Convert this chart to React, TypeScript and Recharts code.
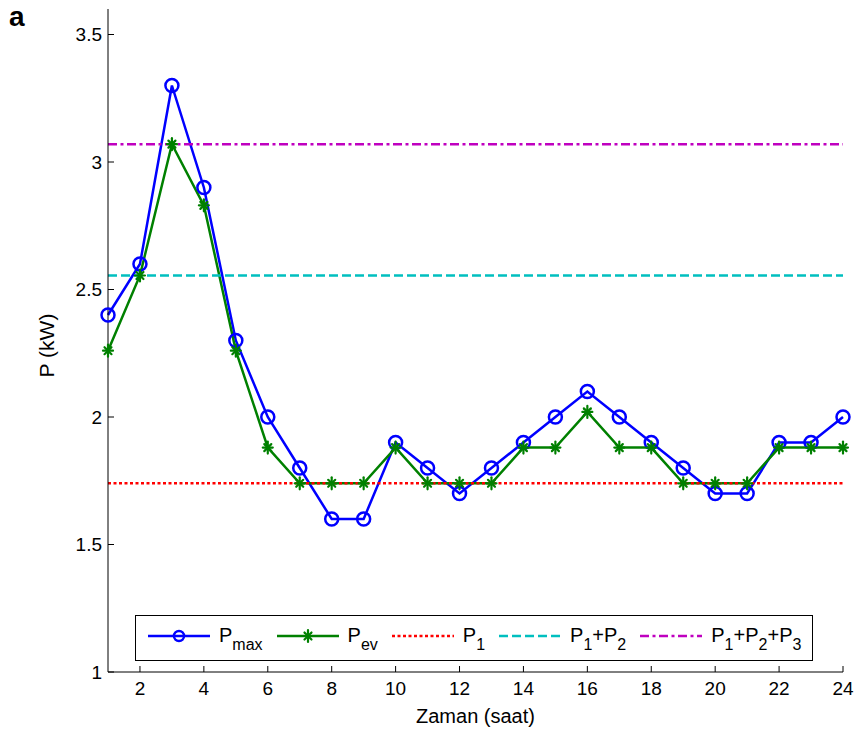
import React from 'react';
import { LineChart, Line, XAxis, YAxis, ReferenceLine } from 'recharts';

// hours of day
const hours = [1, 2, 3, 4, 5, 6, 7, 8, 9, 10, 11, 12, 13, 14, 15, 16, 17, 18, 19, 20, 21, 22, 23, 24];
// P_max and P_ev, kW
const pMax = [2.4, 2.6, 3.3, 2.9, 2.3, 2.0, 1.8, 1.6, 1.6, 1.9, 1.8, 1.7, 1.8, 1.9, 2.0, 2.1, 2.0, 1.9, 1.8, 1.7, 1.7, 1.9, 1.9, 2.0];
const pEv = [2.26, 2.555, 3.07, 2.83, 2.26, 1.88, 1.74, 1.74, 1.74, 1.88, 1.74, 1.74, 1.74, 1.88, 1.88, 2.02, 1.88, 1.88, 1.74, 1.74, 1.74, 1.88, 1.88, 1.88];
// threshold levels
const p1 = 1.74;
const p12 = 2.555;
const p123 = 3.07;

const xTicks = [2, 4, 6, 8, 10, 12, 14, 16, 18, 20, 22, 24];
const yTicks = [1, 1.5, 2, 2.5, 3, 3.5];
const yDomain = [1, 3.6];
const xDomain = [1, 24];

const BLUE = '#0000FF';
const GREEN = '#008000';
const RED = '#FF0000';
const CYAN = '#00BFBF';
const MAGENTA = '#BF00BF';
const FONT = '"Liberation Sans", Arial, sans-serif';

const data = hours.map((h, i) => ({ hour: h, pMax: pMax[i], pEv: pEv[i] }));

function StarDot(props: any) {
    const { cx, cy } = props;
    if (cx == null || cy == null) return null;
    return (
        <g stroke={GREEN} strokeWidth={2.2} strokeLinecap="round">
            <line x1={cx} y1={cy - 6} x2={cx} y2={cy + 6} />
            <line x1={cx - 5} y1={cy} x2={cx + 5} y2={cy} />
            <line x1={cx - 3.5} y1={cy - 3.5} x2={cx + 3.5} y2={cy + 3.5} />
            <line x1={cx - 3.5} y1={cy + 3.5} x2={cx + 3.5} y2={cy - 3.5} />
        </g>
    );
}

function Sub({ children }: { children: React.ReactNode }) {
    return <span style={{ fontSize: 16, position: 'relative', top: 8 }}>{children}</span>;
}

const legendItems = [
    { key: 'pmax', color: BLUE, dash: undefined, marker: 'circle', label: <>P<Sub>max</Sub></> },
    { key: 'pev', color: GREEN, dash: undefined, marker: 'star', label: <>P<Sub>ev</Sub></> },
    { key: 'p1', color: RED, dash: '3 2.5', marker: '', label: <>P<Sub>1</Sub></> },
    { key: 'p12', color: CYAN, dash: '9 4', marker: '', label: <>P<Sub>1</Sub>+P<Sub>2</Sub></> },
    { key: 'p123', color: MAGENTA, dash: '9 3.5 3 3.5', marker: '', label: <>P<Sub>1</Sub>+P<Sub>2</Sub>+P<Sub>3</Sub></> },
];

function LegendBox() {
    return (
        <div style={{
            position: 'absolute', left: 135, top: 615, width: 678, height: 46,
            border: '1.5px solid #000', boxSizing: 'border-box', background: '#fff',
            display: 'flex', alignItems: 'center', paddingLeft: 12, fontFamily: FONT, fontSize: 20,
        }}>
            {legendItems.map(it => (
                <div key={it.key} style={{ display: 'flex', alignItems: 'center', marginRight: 14, position: 'relative', top: -2 }}>
                    <svg width={62} height={16} style={{ marginRight: 9 }}>
                        <line x1={0} y1={8} x2={62} y2={8} stroke={it.color} strokeWidth={2.5} strokeDasharray={it.dash} />
                        {it.marker === 'circle' && <circle cx={31} cy={8} r={5} stroke={it.color} strokeWidth={2.5} fill="none" />}
                        {it.marker === 'star' && <StarDot cx={31} cy={8} />}
                    </svg>
                    <span style={{ lineHeight: '20px' }}>{it.label}</span>
                </div>
            ))}
        </div>
    );
}

export default function App() {
    const tickStyle = { fill: '#000', fontSize: 19, fontFamily: FONT };
    return (
        <div style={{ position: 'absolute', left: 0, top: 0, width: 856, height: 736, background: '#fff', fontFamily: FONT }}>
            <div style={{ position: 'absolute', left: 9, top: 1, fontSize: 28, fontWeight: 'bold', lineHeight: 'normal' }}>a</div>
            <LineChart width={856} height={736} data={data} margin={{ top: 9, right: 13, left: 8, bottom: 4 }}>
                <XAxis
                    xAxisId="b"
                    dataKey="hour"
                    type="number"
                    domain={xDomain}
                    ticks={xTicks}
                    interval={0}
                    height={60}
                    stroke="#000"
                    tickSize={-6}
                    tickMargin={16}
                    tick={tickStyle}
                    label={{ value: 'Zaman (saat)', position: 'insideBottom', offset: 9, fill: '#000', fontSize: 20, fontFamily: FONT }}
                />
                <XAxis xAxisId="t" orientation="top" mirror type="number" domain={xDomain} ticks={xTicks} interval={0} height={0} stroke="#000" tick={false} tickSize={6} allowDataOverflow />
                <YAxis
                    yAxisId="l"
                    type="number"
                    domain={yDomain}
                    ticks={yTicks}
                    interval={0}
                    width={100}
                    stroke="#000"
                    tickSize={-6}
                    tickMargin={12}
                    tick={tickStyle}
                    allowDataOverflow
                    label={{ value: 'P (kW)', angle: -90, position: 'center', dx: -11, dy: 5, fill: '#000', fontSize: 21, fontFamily: FONT }}
                />
                <YAxis yAxisId="r" orientation="right" mirror type="number" domain={yDomain} ticks={yTicks} interval={0} width={0} stroke="#000" tick={false} tickSize={6} allowDataOverflow />
                <Line
                    xAxisId="b"
                    yAxisId="l"
                    dataKey="pMax"
                    stroke={BLUE}
                    strokeWidth={2.5}
                    dot={{ r: 6.5, stroke: BLUE, strokeWidth: 2.5, fill: 'none' }}
                    isAnimationActive={false}
                />
                <Line
                    xAxisId="b"
                    yAxisId="l"
                    dataKey="pEv"
                    stroke={GREEN}
                    strokeWidth={2.5}
                    dot={(p: any) => <StarDot key={p.index} {...p} />}
                    isAnimationActive={false}
                />
                <ReferenceLine xAxisId="b" yAxisId="l" y={p1} stroke={RED} strokeWidth={2.5} strokeDasharray="3 2.5" />
                <ReferenceLine xAxisId="b" yAxisId="l" y={p12} stroke={CYAN} strokeWidth={2.5} strokeDasharray="9 4" />
                <ReferenceLine xAxisId="b" yAxisId="l" y={p123} stroke={MAGENTA} strokeWidth={2.5} strokeDasharray="9 3.5 3 3.5" />
            </LineChart>
            <LegendBox />
        </div>
    );
}
